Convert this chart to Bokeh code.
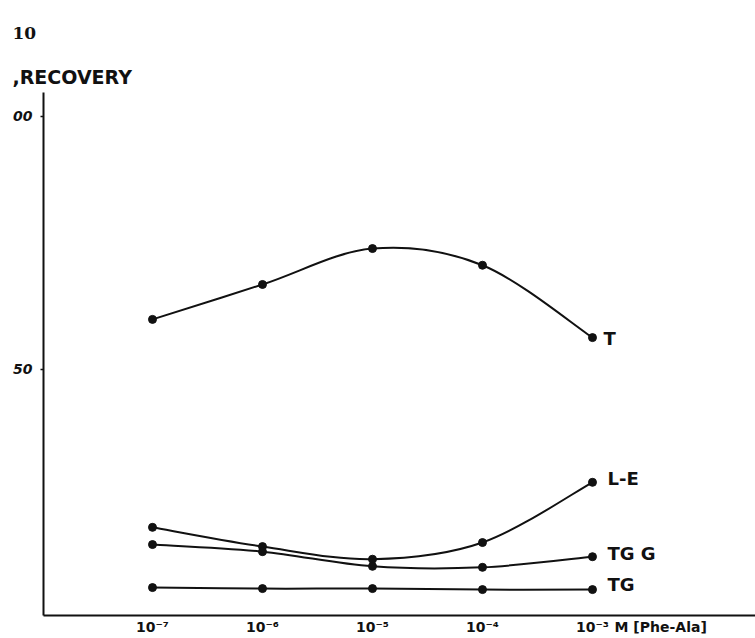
import numpy as np
from bokeh.plotting import figure
from bokeh.models import FixedTicker, Range1d, Title
from bokeh.core.properties import value
from bokeh.embed import file_html
from bokeh.resources import INLINE

# ---- data ----
conc = [1e-7, 1e-6, 1e-5, 1e-4, 1e-3]
x_tick_labels = ["10\u207b\u2077", "10\u207b\u2076", "10\u207b\u2075", "10\u207b\u2074", "10\u207b\u00b3"]
rec_T = [59.9, 66.8, 73.9, 70.6, 56.3]
rec_LE = [18.8, 15.0, 12.5, 15.8, 27.7]
rec_TGG = [15.4, 14.0, 11.1, 10.9, 13.0]
rec_TG = [6.9, 6.7, 6.7, 6.5, 6.5]
series = [("T", rec_T), ("L-E", rec_LE), ("TG G", rec_TGG), ("TG", rec_TG)]
y_ticks = [50, 100]
y_tick_labels = ["50", "00"]
x_unit_label = "M [Phe-Ala]"
y_title = ",RECOVERY"
fig_no = "10"

# layout constant: where the unit text sits in the tick-label row (log10 position)
UNIT_POS = 10 ** -2.38

INK = "#111111"

p = figure(width=755, height=638, x_axis_type="log",
           x_range=Range1d(10 ** -7.991, 10 ** -1.518),
           y_range=Range1d(1.38, 104.74),
           output_backend="svg", toolbar_location=None,
           min_border_left=43, min_border_right=0,
           min_border_top=92, min_border_bottom=23)
p.outline_line_color = None
p.grid.visible = False
p.background_fill_color = "white"

# figure number (plot title, outermost) and the y title next to the frame
p.title.text = fig_no
p.title.align = "left"
p.title.offset = -31
p.title.text_font = "DejaVu Serif"
p.title.text_font_style = "bold"
p.title.text_font_size = "17px"
p.title.text_color = INK
p.title.standoff = 42
p.add_layout(Title(text=y_title, align="left", offset=-31, text_font="DejaVu Sans",
                   text_font_style="bold", text_font_size="19px", text_color=INK,
                   standoff=9), "above")

# x axis (the unit text shares the tick-label row)
xa = p.xaxis[0]
xa.ticker = FixedTicker(ticks=conc + [UNIT_POS])
overrides = {c: t for c, t in zip(conc, x_tick_labels)}
overrides[UNIT_POS] = x_unit_label
xa.major_label_overrides = overrides
xa.axis_line_width = 2
xa.axis_line_color = INK
xa.major_tick_in = 0
xa.major_tick_out = 0
xa.minor_tick_line_color = None
xa.major_label_standoff = 3
xa.major_label_text_font = "DejaVu Sans"
xa.major_label_text_font_style = "bold"
xa.major_label_text_font_size = "14px"
xa.major_label_text_color = INK

# y axis
ya = p.yaxis[0]
ya.ticker = FixedTicker(ticks=y_ticks)
ya.major_label_overrides = {t: l for t, l in zip(y_ticks, y_tick_labels)}
ya.axis_line_width = 2
ya.axis_line_color = INK
ya.major_tick_in = 0
ya.major_tick_out = 3
ya.major_tick_line_color = INK
ya.major_tick_line_width = 1.5
ya.minor_tick_line_color = None
ya.major_label_standoff = 8
ya.major_label_text_font = "DejaVu Sans"
ya.major_label_text_font_style = "bold italic"
ya.major_label_text_font_size = "14px"
ya.major_label_text_color = INK


def smooth_segments(xs, ys):
    """Catmull-Rom curve through the data points, drawn as bezier pieces in log-x space."""
    lx = np.log10(np.asarray(xs, dtype=float))
    yy = np.asarray(ys, dtype=float)
    n = len(lx)
    px = np.concatenate([[lx[0]], lx, [lx[-1]]])
    py = np.concatenate([[yy[0]], yy, [yy[-1]]])
    segs = dict(x0=[], y0=[], x1=[], y1=[], cx0=[], cy0=[], cx1=[], cy1=[])
    for i in range(n - 1):
        a, b, c, d = i, i + 1, i + 2, i + 3
        segs["x0"].append(10 ** px[b]); segs["y0"].append(py[b])
        segs["x1"].append(10 ** px[c]); segs["y1"].append(py[c])
        segs["cx0"].append(10 ** (px[b] + (px[c] - px[a]) / 6)); segs["cy0"].append(py[b] + (py[c] - py[a]) / 6)
        segs["cx1"].append(10 ** (px[c] - (px[d] - px[b]) / 6)); segs["cy1"].append(py[c] - (py[d] - py[b]) / 6)
    return segs


label_offsets = {"T": (11, 1), "L-E": (15, -4), "TG G": (15, -3), "TG": (15, -5)}

for name, vals in series:
    s = smooth_segments(conc, vals)
    p.bezier(x0=s["x0"], y0=s["y0"], x1=s["x1"], y1=s["y1"],
             cx0=s["cx0"], cy0=s["cy0"], cx1=s["cx1"], cy1=s["cy1"],
             line_color=INK, line_width=2)
    p.scatter(conc, vals, size=8, color=INK)
    dx, dy = label_offsets[name]
    p.text(x=[conc[-1]], y=[vals[-1]], text=[name], x_offset=dx, y_offset=dy,
           text_font=value("DejaVu Sans"), text_font_style="bold",
           text_font_size="18px", text_color=INK,
           text_align="left", text_baseline="middle")

open("out.html", "w").write(file_html(p, INLINE))
